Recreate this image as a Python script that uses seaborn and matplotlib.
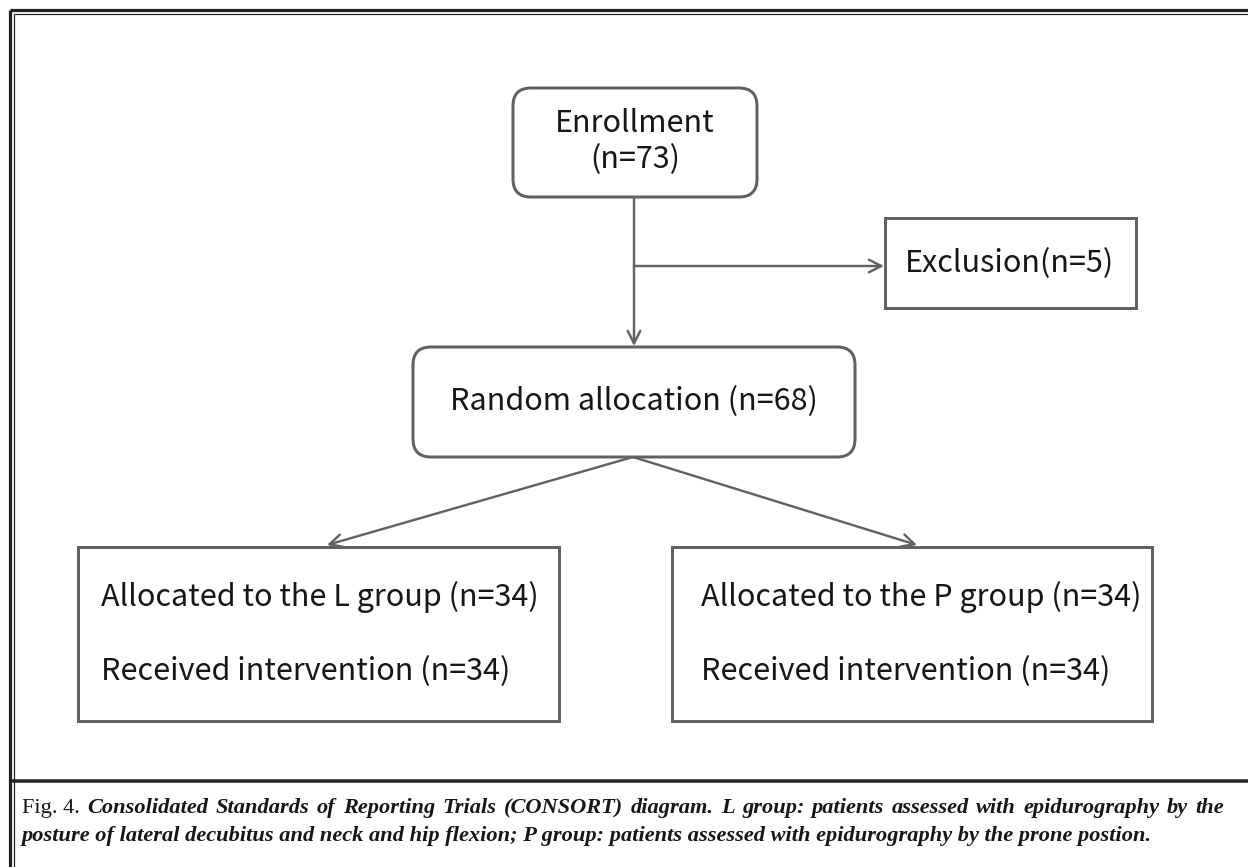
import matplotlib
matplotlib.use("Agg")
import matplotlib.pyplot as plt
import matplotlib.transforms as mtrans
import seaborn as sns
from matplotlib.patches import FancyBboxPatch

# ---- data ----
enroll_label = "Enrollment"
enroll_n = 73
excl_label = "Exclusion"
excl_n = 5
rand_label = "Random allocation"
rand_n = 68
group_names = ["L", "P"]
group_alloc_n = [34, 34]
group_recv_n = [34, 34]
caption_head = "Fig. 4."
caption_body_1 = ("Consolidated Standards of Reporting Trials (CONSORT) diagram. "
                  "L group: patients assessed with epidurography by the")
caption_body_2 = ("posture of lateral decubitus and neck and hip flexion; P group: "
                  "patients assessed with epidurography by the prone postion.")

sns.set_theme(style="white")
plt.rcParams["font.family"] = ["Noto Sans CJK KR", "DejaVu Sans"]

W, H = 1248, 867
fig = plt.figure(figsize=(W / 100, H / 100), dpi=100)
ax = fig.add_axes([0, 0, 1, 1])
ax.set_xlim(0, W)
ax.set_ylim(H, 0)
ax.axis("off")

px = 72 / 100  # points per pixel
frame_c = "#232323"
edge_c = "#616161"
txt_c = "#161616"
fs = 22

# ---- outer frame ----
ax.plot([9.5, 9.5], [9.5, H], color=frame_c, lw=3.2 * px, solid_capstyle="butt")
ax.plot([9.5, W], [9.5, 9.5], color=frame_c, lw=3.2 * px, solid_capstyle="butt")
ax.plot([13.5, 13.5], [13.5, H], color=frame_c, lw=1.2 * px, solid_capstyle="butt")
ax.plot([13.5, W], [13.5, 13.5], color=frame_c, lw=1.2 * px, solid_capstyle="butt")
ax.plot([9, W], [781, 781], color=frame_c, lw=3.5 * px, solid_capstyle="butt")


def rbox(x0, y0, x1, y1, rounded):
    style = "round,pad=0,rounding_size=18" if rounded else "square,pad=0"
    p = FancyBboxPatch((x0, y0), x1 - x0, y1 - y0, boxstyle=style,
                       fc="white", ec=edge_c, lw=3 * px, zorder=3)
    ax.add_patch(p)


def arrow(x0, y0, x1, y1):
    ax.annotate("", xy=(x1, y1), xytext=(x0, y0),
                arrowprops=dict(arrowstyle="->,head_length=0.75,head_width=0.38",
                                color=edge_c, lw=2.4 * px,
                                shrinkA=0, shrinkB=0), zorder=2)


# Enrollment
rbox(513, 88, 757, 197, True)
ax.text(635, 123, enroll_label, ha="center", va="center", fontsize=fs, color=txt_c, zorder=4)
ax.text(635, 160, f"(n={enroll_n})", ha="center", va="center", fontsize=fs, color=txt_c, zorder=4)

# connectors from enrollment
arrow(634, 197, 634, 346)
arrow(634, 266, 884, 266)

# Exclusion
rbox(885, 218, 1136, 308, False)
ax.text(1010, 264, f"{excl_label}(n={excl_n})", ha="center", va="center",
        fontsize=fs, color=txt_c, zorder=4)

# Random allocation
rbox(413, 347, 855, 457, True)
ax.text(634, 402, f"{rand_label} (n={rand_n})", ha="center", va="center",
        fontsize=fs, color=txt_c, zorder=4)

# branches
arrow(633, 457, 327, 545)
arrow(633, 457, 917, 545)

# group boxes
boxes = [(78, 547, 559, 721, 101), (672, 547, 1152, 721, 701)]
for (x0, y0, x1, y1, tx), g, na, nr in zip(boxes, group_names, group_alloc_n, group_recv_n):
    rbox(x0, y0, x1, y1, False)
    ax.text(tx, 597, f"Allocated to the {g} group (n={na})", ha="left", va="center",
            fontsize=fs, color=txt_c, zorder=4)
    ax.text(tx, 672, f"Received intervention (n={nr})", ha="left", va="center",
            fontsize=fs, color=txt_c, zorder=4)

# ---- caption ----
serif = ["Liberation Serif", "DejaVu Serif"]
r = fig.canvas.get_renderer()
tr = mtrans.blended_transform_factory(mtrans.IdentityTransform(), ax.transData)
ital = dict(family=serif, style="italic", weight="bold", color=txt_c)

# fit size so that line 2 ends near x=1151
probe = ax.text(22, 836, caption_body_2, ha="left", va="center", fontsize=15, **ital)
w2 = probe.get_window_extent(renderer=r).width
probe.remove()
cap_fs = 15 * (1151 - 22) / w2

ax.text(22, 836, caption_body_2, ha="left", va="center", fontsize=cap_fs, **ital)

# line 1: justified from x=22 to x=1224
left, right_edge = 22, 1224
tokens = [(caption_head, dict(family=serif, color=txt_c))] + \
         [(w, ital) for w in caption_body_1.split(" ")]
widths = []
for t, kw in tokens:
    p = ax.text(0, 808, t, ha="left", va="center", fontsize=cap_fs, transform=tr, **kw)
    widths.append(p.get_window_extent(renderer=r).width)
    p.remove()
gap = (right_edge - left - sum(widths)) / (len(tokens) - 1)
x = left
for (t, kw), w in zip(tokens, widths):
    ax.text(x, 808, t, ha="left", va="center", fontsize=cap_fs, transform=tr, **kw)
    x += w + gap

fig.savefig("out.png", dpi=100)
